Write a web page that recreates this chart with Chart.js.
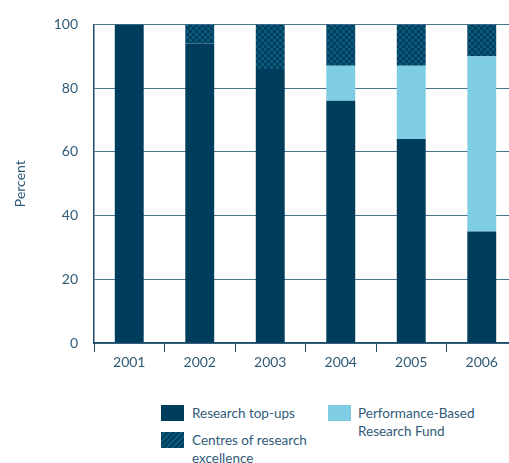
<!DOCTYPE html>
<html><head><meta charset="utf-8">
<script src="https://cdn.jsdelivr.net/npm/chart.js@4"></script>
<style>
html,body{margin:0;padding:0;overflow:hidden;width:509px;height:463px;background:#fff;}
#wrap{position:absolute;left:0;top:0;width:520px;height:380px;}
.leg{position:absolute;font-family:Lato,"Open Sans",sans-serif;font-size:13.5px;color:#2f5b78;line-height:18px;}
.sw{position:absolute;width:23px;height:16px;}
</style></head><body>
<div id="wrap"><canvas id="c" width="520" height="380"></canvas></div>
<div class="sw" style="left:161px;top:405px;background:#003d5c"></div>
<div class="leg" style="left:192px;top:404px">Research top-ups</div>
<div class="sw" style="left:161px;top:432px;background:repeating-linear-gradient(135deg,#003d5c 0 2px,#0a5a7c 2px 4px)"></div>
<div class="leg" style="left:192px;top:431px">Centres of research<br>excellence</div>
<div class="sw" style="left:328px;top:405px;background:#7ecde3"></div>
<div class="leg" style="left:358px;top:404px">Performance-Based<br>Research Fund</div>
<script>
const categories = ["2001","2002","2003","2004","2005","2006"];
const researchTopUps = [100, 94, 86, 76, 64, 35];
const pbrf = [0, 0, 0, 11, 23, 55];
const centresOfExcellence = [0, 6, 14, 13, 13, 10];
const yTicks = [0, 20, 40, 60, 80, 100];

function makePattern(){
  const p = document.createElement('canvas');
  p.width = 6; p.height = 6;
  const g = p.getContext('2d');
  g.fillStyle = '#003d5c'; g.fillRect(0,0,6,6);
  g.fillStyle = '#0b5b7d'; g.fillRect(0,0,3,3); g.fillRect(3,3,3,3);
  return document.getElementById('c').getContext('2d').createPattern(p,'repeat');
}
const font = {family: 'Lato, "Open Sans", sans-serif', size: 14};
const txt = '#2f5b78';
new Chart(document.getElementById('c'), {
  type: 'bar',
  data: {
    labels: categories,
    datasets: [
      {label: 'Research top-ups', data: researchTopUps, backgroundColor: '#003d5c'},
      {label: 'Performance-Based Research Fund', data: pbrf, backgroundColor: '#7ecde3'},
      {label: 'Centres of research excellence', data: centresOfExcellence, backgroundColor: makePattern()}
    ]
  },
  options: {
    responsive: false, animation: false,
    layout: {padding: {left: 0, right: 3, top: 23, bottom: 0}},
    datasets: {bar: {categoryPercentage: 1, barPercentage: 0.41}},
    plugins: {legend: {display: false}, tooltip: {enabled: false}},
    scales: {
      x: {
        stacked: true,
        grid: {drawOnChartArea: false, drawTicks: true, tickLength: 9, color: '#1d4a66', offset: true},
        border: {display: true, color: '#1d4a66', width: 1.5},
        ticks: {font: font, color: txt, padding: 2, maxRotation: 0},
        afterFit: s => { s.height = 37; }
      },
      y: {
        stacked: true, min: 0, max: 100,
        afterBuildTicks: s => { s.ticks = yTicks.map(v => ({value: v})); },
        grid: {drawTicks: false, color: '#4a7590', borderDash: [1, 2], lineWidth: 1},
        border: {display: true, color: '#1d4a66', width: 1.5},
        ticks: {font: font, color: txt, padding: 16},
        title: {display: true, text: 'Percent', font: font, color: txt, padding: {top: 12, bottom: 0}},
        afterFit: s => { s.width = 94; }
      }
    }
  }
});
</script>
</body></html>
